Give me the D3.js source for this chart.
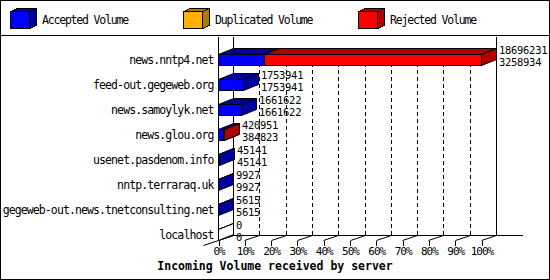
<!DOCTYPE html>
<html>
<head>
<meta charset="utf-8">
<script src="https://cdn.jsdelivr.net/npm/d3@7"></script>
<style>
  body { margin: 0; background: #fff; }
  svg { display: block; }
  text { font-family: "DejaVu Sans Mono", "Liberation Mono", monospace; fill: #000; }
</style>
</head>
<body>
<div id="chart"></div>
<script>
// Servers, top to bottom
const hosts = [
    "news.nntp4.net",
    "feed-out.gegeweb.org",
    "news.samoylyk.net",
    "news.glou.org",
    "usenet.pasdenom.info",
    "nntp.terraraq.uk",
    "gegeweb-out.news.tnetconsulting.net",
    "localhost"
];
// Incoming volume (top label) and accepted volume (bottom label)
const totalVolume = [18696231, 1753941, 1661622, 420951, 45141, 9927, 5615, 0];
const acceptedVolume = [3258934, 1753941, 1661622, 384823, 45141, 9927, 5615, 0];
const duplicatedVolume = [0, 0, 0, 0, 0, 0, 0, 0];
const rejectedVolume = [15437297, 0, 0, 36128, 0, 0, 0, 0];
const tickValues = [0, 10, 20, 30, 40, 50, 60, 70, 80, 90, 100];

const series = [
    { label: "Accepted Volume", values: acceptedVolume, front: "#0000ff", shade: "#0000a0" },
    { label: "Duplicated Volume", values: duplicatedVolume, front: "#ffb000", shade: "#b07c00" },
    { label: "Rejected Volume", values: rejectedVolume, front: "#ff0000", shade: "#b00000" }
];

const W = 550, H = 280;
const DX = 15, DY = -6, BAR_H = 11;   // pseudo 3d depth offset
const FLOOR = 240, FLOOR_BACK = 235;

// text styles, squeezed to the 6px cell of the original bitmap font
const smallFont = sel => sel
    .style("font-family", "'DejaVu Sans Mono', monospace")
    .style("font-size", "10.5px")
    .style("letter-spacing", "-0.3px")
    .attr("fill", "#000");

const svg = d3.select("#chart").append("svg")
    .attr("width", W)
    .attr("height", H);

// crisp 1px lines
const g = svg.append("g")
    .attr("transform", "translate(0.5,0.5)")
    .attr("shape-rendering", "crispEdges");

// Frame and legend separator
g.append("rect")
    .attr("x", 0).attr("y", 0)
    .attr("width", W - 1).attr("height", H - 1)
    .attr("fill", "#fff").attr("stroke", "#000");
g.append("line")
    .attr("x1", 0).attr("x2", W - 1)
    .attr("y1", 35).attr("y2", 35)
    .attr("stroke", "#000");

// Legend with little cubes
const legendX = [10, 183, 358];
series.forEach((s, i) => {
    const lx = legendX[i], ly = 11, lw = 19, lh = 17, ddx = 7, ddy = -3;
    const lg = g.append("g");
    lg.append("polygon")
        .attr("points", [[lx, ly], [lx + ddx, ly + ddy], [lx + lw + ddx, ly + ddy], [lx + lw, ly]].join(" "))
        .attr("fill", s.shade).attr("stroke", "#000");
    lg.append("polygon")
        .attr("points", [[lx + lw, ly], [lx + lw + ddx, ly + ddy], [lx + lw + ddx, ly + lh + ddy], [lx + lw, ly + lh]].join(" "))
        .attr("fill", s.shade).attr("stroke", "#000");
    lg.append("rect")
        .attr("x", lx).attr("y", ly)
        .attr("width", lw).attr("height", lh)
        .attr("fill", s.front).attr("stroke", "#000");
    svg.append("text")
        .attr("x", lx + 32)
        .attr("y", 24)
        .style("font-size", "11.5px")
        .style("letter-spacing", "-1.2px")
        .text(s.label);
});

// Scales
const maxTotal = d3.max(totalVolume);
const x = d3.scaleLinear().domain([0, 100]).range([218, 481]);
const pct = v => v / maxTotal * 100;
const y = d3.scalePoint().domain(hosts).range([54, 229]);   // front top of each bar

// Dashed grid on the back wall
g.selectAll("line.grid")
    .data(tickValues.slice(1, -1))
    .join("line")
    .attr("class", "grid")
    .attr("x1", d => Math.round(x(d)) + DX)
    .attr("x2", d => Math.round(x(d)) + DX)
    .attr("y1", 48)
    .attr("y2", FLOOR_BACK)
    .attr("stroke", "#000")
    .attr("stroke-dasharray", "4,3");

// Floor lines under each tick
g.selectAll("line.floor")
    .data(tickValues)
    .join("line")
    .attr("class", "floor")
    .attr("x1", d => Math.round(x(d)))
    .attr("x2", d => Math.round(x(d)) + DX)
    .attr("y1", FLOOR)
    .attr("y2", FLOOR_BACK)
    .attr("stroke", "#000")
    .attr("shape-rendering", "auto");

// Walls
const x0 = Math.round(x(0)), x100 = Math.round(x(100));
g.append("line").attr("x1", x0).attr("x2", x0).attr("y1", 36).attr("y2", FLOOR).attr("stroke", "#000");
g.append("line").attr("x1", x0 + DX).attr("x2", x0 + DX).attr("y1", 36).attr("y2", FLOOR_BACK).attr("stroke", "#000");
g.append("line").attr("x1", x100 + DX).attr("x2", x100 + DX).attr("y1", 36).attr("y2", FLOOR_BACK).attr("stroke", "#000");
g.append("line").attr("x1", x0 + DX).attr("x2", 522).attr("y1", FLOOR_BACK).attr("y2", FLOOR_BACK).attr("stroke", "#000");
g.append("line").attr("x1", x0 - DX).attr("x2", x0 + DX).attr("y1", FLOOR + 5).attr("y2", FLOOR_BACK)
    .attr("stroke", "#000").attr("shape-rendering", "auto");

// X axis at the front edge of the floor
const xAxis = g.append("g")
    .attr("transform", `translate(0,${FLOOR})`)
    .call(d3.axisBottom(x)
        .tickValues(tickValues)
        .tickFormat(d => d + "%")
        .tickSize(5)
        .tickPadding(2));
xAxis.select(".domain").remove();
xAxis.selectAll("line").attr("stroke", "#000");
xAxis.selectAll("text").call(smallFont).style("font-size", "11px").style("letter-spacing", "-1px");

// Host labels
const yLabels = g.append("g")
    .attr("transform", `translate(${x0},${BAR_H / 2})`)
    .call(d3.axisLeft(y).tickSize(0).tickPadding(5));
yLabels.select(".domain").remove();
yLabels.selectAll("text").call(smallFont).style("font-size", "11.5px").style("letter-spacing", "-0.9px");

// 3d box: top face, side face, front face
function box(parent, xa, xb, yt, front, shade) {
    parent.append("polygon")
        .attr("points", [[xa, yt], [xa + DX, yt + DY], [xb + DX, yt + DY], [xb, yt]].join(" "))
        .attr("fill", shade).attr("stroke", "#000").attr("shape-rendering", "auto");
    parent.append("polygon")
        .attr("points", [[xb, yt], [xb + DX, yt + DY], [xb + DX, yt + DY + BAR_H], [xb, yt + BAR_H]].join(" "))
        .attr("fill", shade).attr("stroke", "#000").attr("shape-rendering", "auto");
    parent.append("rect")
        .attr("x", xa).attr("y", yt)
        .attr("width", xb - xa).attr("height", BAR_H)
        .attr("fill", front).attr("stroke", "#000");
}

const bars = g.append("g");
hosts.forEach((h, i) => {
    const yt = y(h);
    let cum = 0;
    if (totalVolume[i] === 0) {
        box(bars, x0, x0, yt, "#fff", "#fff");
    }
    series.forEach(s => {
        const v = s.values[i];
        if (v <= 0) return;
        const xa = Math.round(x(pct(cum)));
        const xb = Math.round(x(pct(cum + v)));
        box(bars, xa, xb, yt, s.front, s.shade);
        cum += v;
    });
    const xEnd = Math.round(x(pct(totalVolume[i]))) + DX + 3;
    svg.append("text")
        .attr("x", xEnd).attr("y", yt - 0.5)
        .call(smallFont)
        .text(totalVolume[i]);
    svg.append("text")
        .attr("x", xEnd).attr("y", yt + BAR_H + 0.5)
        .call(smallFont)
        .text(acceptedVolume[i]);
});

// Axis title
svg.append("text")
    .attr("x", W / 2)
    .attr("y", 270)
    .attr("text-anchor", "middle")
    .style("font-size", "11.5px")
    .style("font-weight", "bold")
    .text("Incoming Volume received by server");
</script>
</body>
</html>
